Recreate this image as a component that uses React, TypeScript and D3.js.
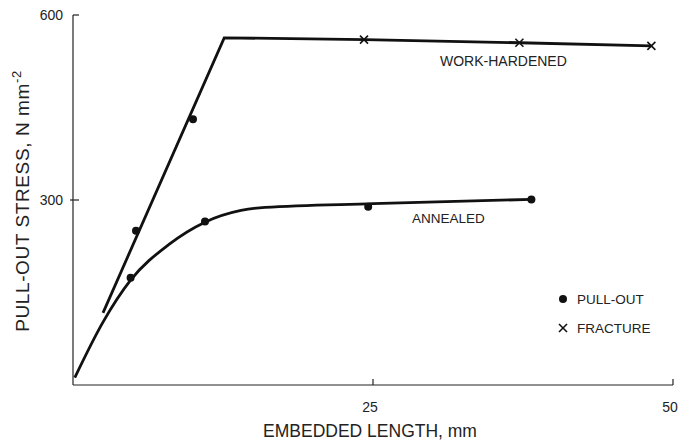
import React from "react";
import * as d3 from "d3";

const xTicks = [25, 50];
const yTicks = [300, 600];

// Work-hardened fitted line
const whLineX = [2.5, 12.6, 24.3, 37.2, 48.2];
const whLineY = [117, 563, 560, 555, 550];
// Work-hardened measured points: pull-out (dots)
const whPullX = [5.25, 10.0];
const whPullY = [250, 431];
// Work-hardened fracture points (crosses)
const whFracX = [24.25, 37.2, 48.2];
const whFracY = [560, 555, 550];

// Annealed fitted curve
const anCurveX = [0.15, 2.5, 4.8, 8, 11, 14, 16, 25, 38.2];
const anCurveY = [12, 102, 170, 228, 264, 283, 288, 294, 301];
// Annealed measured pull-out points
const anPullX = [4.8, 11.0, 24.6, 38.2];
const anPullY = [174, 265, 289, 301];

const W = 691;
const H = 442;
const FONT = "'Liberation Sans', Arial, sans-serif";

export default function App() {
  const x = d3.scaleLinear().domain([0, 50]).range([73, 673]);
  const y = d3.scaleLinear().domain([0, 600]).range([385, 15]);

  const lineGen = d3
    .line<[number, number]>()
    .x((d) => x(d[0]))
    .y((d) => y(d[1]));
  const curveGen = d3
    .line<[number, number]>()
    .x((d) => x(d[0]))
    .y((d) => y(d[1]))
    .curve(d3.curveMonotoneX);

  const whPts = whLineX.map((v, i) => [v, whLineY[i]] as [number, number]);
  const anPts = anCurveX.map((v, i) => [v, anCurveY[i]] as [number, number]);

  const cross = (cx: number, cy: number, s: number, key: string) => (
    <g key={key} stroke="#111" strokeWidth={1.6}>
      <line x1={cx - s} y1={cy - s} x2={cx + s} y2={cy + s} />
      <line x1={cx - s} y1={cy + s} x2={cx + s} y2={cy - s} />
    </g>
  );

  return (
    <svg
      width={W}
      height={H}
      style={{ position: "absolute", left: 0, top: 0, background: "#fff" }}
      fontFamily={FONT}
    >
      <rect x={0} y={0} width={W} height={H} fill="#fff" />
      {/* axes */}
      <line x1={x(0)} y1={y(0)} x2={x(50)} y2={y(0)} stroke="#222" strokeWidth={1.2} />
      <line x1={x(0)} y1={y(0)} x2={x(0)} y2={y(600)} stroke="#222" strokeWidth={1.2} />
      {xTicks.map((t) => (
        <g key={"xt" + t}>
          <line x1={x(t)} y1={y(0)} x2={x(t)} y2={y(0) - 6} stroke="#222" strokeWidth={1.2} />
          <text x={x(t) - 3} y={412} fontSize={14} textAnchor="middle" fill="#222">
            {t}
          </text>
        </g>
      ))}
      {yTicks.map((t) => (
        <g key={"yt" + t}>
          <line x1={x(0) - (t === 300 ? 3 : 0)} y1={y(t)} x2={x(0) + 6} y2={y(t)} stroke="#222" strokeWidth={1.2} />
          <text x={x(0) - 10} y={y(t) + 5} fontSize={14} textAnchor="end" fill="#222">
            {t}
          </text>
        </g>
      ))}
      {/* axis titles */}
      <text x={370} y={437} fontSize={17.5} textAnchor="middle" fill="#222">
        EMBEDDED LENGTH, mm
      </text>
      <text
        transform={`translate(29,201) rotate(-90)`}
        fontSize={19}
        letterSpacing={0.6}
        textAnchor="middle"
        fill="#222"
      >
        PULL-OUT STRESS, N mm
        <tspan fontSize={13} dy={-8}>
          -2
        </tspan>
      </text>

      {/* data lines */}
      <path d={lineGen(whPts) || ""} fill="none" stroke="#111" strokeWidth={2.8} strokeLinejoin="miter" />
      <path d={curveGen(anPts) || ""} fill="none" stroke="#111" strokeWidth={2.8} />

      {/* points */}
      {whPullX.map((v, i) => (
        <circle key={"wp" + i} cx={x(v)} cy={y(whPullY[i])} r={4} fill="#111" />
      ))}
      {anPullX.map((v, i) => (
        <circle key={"ap" + i} cx={x(v)} cy={y(anPullY[i])} r={4} fill="#111" />
      ))}
      {whFracX.map((v, i) => cross(x(v), y(whFracY[i]), 4, "wf" + i))}

      {/* series labels */}
      <text x={440} y={66} fontSize={14} fill="#222">
        WORK-HARDENED
      </text>
      <text x={412} y={223} fontSize={13.5} fill="#222">
        ANNEALED
      </text>

      {/* legend */}
      <circle cx={563} cy={299} r={4} fill="#111" />
      <text x={577} y={304} fontSize={13.5} fill="#222">
        PULL-OUT
      </text>
      {cross(563, 328, 4, "leg")}
      <text x={577} y={333} fontSize={13.5} fill="#222">
        FRACTURE
      </text>
    </svg>
  );
}
